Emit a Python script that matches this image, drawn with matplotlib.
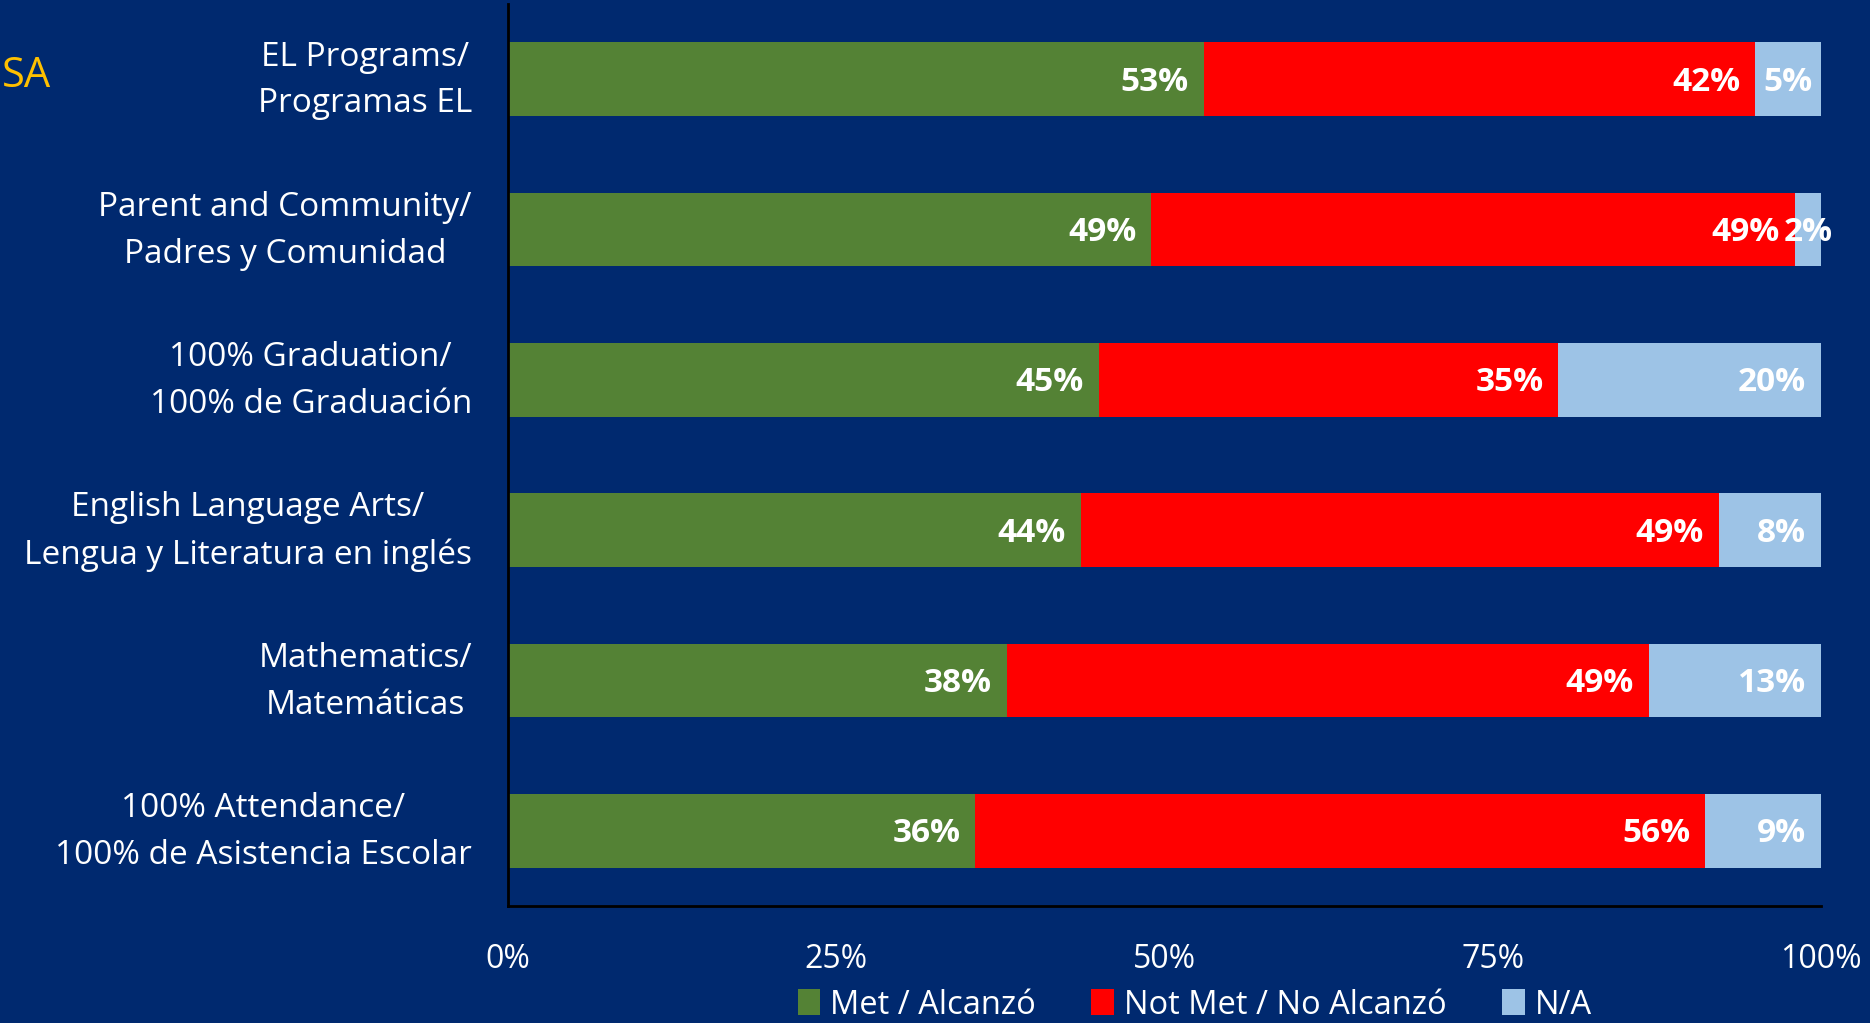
import matplotlib
matplotlib.use("Agg")
import matplotlib.pyplot as plt
from matplotlib.patches import Patch
from matplotlib.transforms import ScaledTranslation

categories = [
    "EL Programs/\nProgramas EL",
    "Parent and Community/\nPadres y Comunidad",
    "100% Graduation/\n100% de Graduación",
    "English Language Arts/\nLengua y Literatura en inglés",
    "Mathematics/\nMatemáticas",
    "100% Attendance/\n100% de Asistencia Escolar",
]
met = [53.0, 49.0, 45.0, 43.6, 38.0, 35.6]
not_met = [42.0, 49.0, 35.0, 48.6, 48.9, 55.6]
na = [5.0, 2.0, 20.0, 7.8, 13.1, 8.8]
series_names = ["Met / Alcanzó", "Not Met / No Alcanzó", "N/A"]
xticks = [0, 25, 50, 75, 100]
xtick_labels = ["0%", "25%", "50%", "75%", "100%"]

BG = "#00296F"
colors = ["#548235", "#FF0000", "#9DC3E6"]
FONT = "Open Sans"

fig = plt.figure(figsize=(18.7, 10.23), dpi=100, facecolor=BG)
ax = fig.add_axes([0.2717, 0.1144, 0.7021, 0.8816])
ax.set_facecolor(BG)

ypos = list(range(len(categories)))
series = [met, not_met, na]
lefts = [0.0] * len(categories)
renderer = fig.canvas.get_renderer()
ax.set_xlim(0, 100)
ax.set_ylim(len(categories) - 0.5, -0.5)
PAD = 1.15
label_offset = ScaledTranslation(0, -0.03, fig.dpi_scale_trans)

for s, vals in enumerate(series):
    ax.barh(ypos, vals, left=lefts, height=0.49, color=colors[s], edgecolor="none")
    for i, v in enumerate(vals):
        end = lefts[i] + v
        label = f"{v:.0f}%"
        t = ax.text(end - PAD, ypos[i], label, ha="right", va="center",
                    color="white", fontsize=24, fontweight="bold", family=FONT,
                    transform=ax.transData + label_offset)
        bb = t.get_window_extent(renderer=renderer)
        inv = ax.transData.inverted()
        x0 = inv.transform((bb.x0, 0))[0]
        x1 = inv.transform((bb.x1, 0))[0]
        w = x1 - x0
        if w + 2 * PAD > v:
            t.set_x(lefts[i] + v / 2)
            t.set_ha("center")
    lefts = [l + v for l, v in zip(lefts, vals)]

ax.set_yticks(ypos)
ax.set_yticklabels(categories, color="white", fontsize=24, family=FONT,
                   multialignment="center", linespacing=1.55)
ax.tick_params(axis="y", length=0, pad=26)
offset = ScaledTranslation(0, 0.095, fig.dpi_scale_trans)
for lab in ax.get_yticklabels():
    lab.set_transform(lab.get_transform() + offset)
ax.set_xticks(xticks)
ax.set_xticklabels(xtick_labels, color="white", fontsize=23, family=FONT)
ax.tick_params(axis="x", length=0, pad=27)

for side in ["top", "right"]:
    ax.spines[side].set_visible(False)
for side in ["left", "bottom"]:
    ax.spines[side].set_color("black")
    ax.spines[side].set_linewidth(2)

handles = [Patch(facecolor=c, edgecolor="none") for c in colors]
leg = ax.legend(handles, series_names, loc="center", bbox_to_anchor=(0.523, -0.11),
                ncol=3, frameon=False, handlelength=0.7, handleheight=0.85,
                handletextpad=0.3, columnspacing=1.7,
                prop={"family": FONT, "size": 23.5})
for txt in leg.get_texts():
    txt.set_color("white")

fig.text(0.001, 0.926, "SA", color="#FFC000", fontsize=30, family=FONT,
         ha="left", va="center")

fig.savefig("out.png", dpi=100, facecolor=BG)
